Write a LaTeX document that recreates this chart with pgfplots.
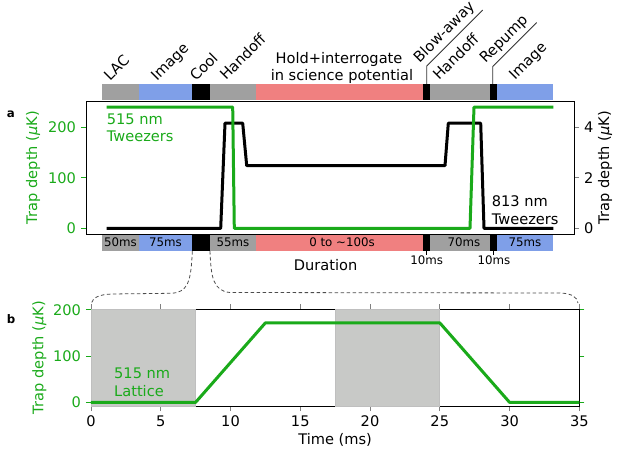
\documentclass[border=0pt]{standalone}
\usepackage{fontspec}
\setmainfont{DejaVu Sans}
\usepackage{pgfplots}
\pgfplotsset{compat=1.18}

\definecolor{tgreen}{RGB}{26,170,26}
\definecolor{bgray}{RGB}{160,160,160}
\definecolor{bblue}{RGB}{127,159,232}
\definecolor{bred}{RGB}{240,128,128}
\definecolor{shade}{RGB}{200,201,199}
\newcommand\fs{\fontsize{14.6}{17.4}\selectfont}
\newcommand\fsm{\fontsize{11.8}{14}\selectfont}
% text turned by 45 degrees, baseline starting at (#1,#2)
\newcommand\rlab[3]{%
  \node[rotate=45, anchor=base west, inner sep=0pt] at (#1,#2) {#3};}

\pgfplotsset{
  common/.style={
    scale only axis, enlargelimits=false, clip=false,
    tick align=outside, major tick length=5pt,
    /pgf/number format/assume math mode=true,
    axis line style={line width=0.9pt},
    every tick/.append style={line width=0.9pt},
  },
}

\begin{document}
\fs
\begin{tikzpicture}
\useasboundingbox (0pt,0pt) rectangle (638pt,467pt);

% panel a, right axis: 813 nm tweezers
\begin{axis}[common,
  at={(86pt,233pt)}, anchor=south west, width=488pt, height=133pt,
  xmin=0, xmax=488, ymin=-0.226, ymax=5.04,
  axis x line=none, axis y line*=right,
  ytick={0,2,4},
  ylabel={Trap depth (\textit{μ}K)},
  every axis y label/.style={at={(axis description cs:1.0635,0.5)}, rotate=90, anchor=center},
]
\addplot[black, line width=3pt, line join=round] coordinates {
  (20.7,0) (134.7,0) (139,4.16) (156.7,4.16) (160.7,2.48) (359,2.48)
  (362.3,4.16) (394.7,4.16) (398,0) (467.3,0)};
\end{axis}

% panel a, left axis: 515 nm tweezers + timeline bars
\begin{axis}[common,
  at={(86pt,233pt)}, anchor=south west, width=488pt, height=133pt,
  xmin=0, xmax=488, ymin=-11.3, ymax=252,
  xtick=\empty, ytick={0,100,200}, ytick pos=left,
  yticklabel style={text=tgreen}, ytick style={draw=tgreen},
  ylabel={Trap depth (\textit{μ}K)},
  every axis y label/.style={at={(axis description cs:-0.1086,0.5)}, rotate=90, anchor=center, text=tgreen},
]
% top bar
\fill[bgray]  (axis cs:16,254)    rectangle (axis cs:52.7,285.7);
\fill[bblue]  (axis cs:52.7,254)  rectangle (axis cs:106,285.7);
\fill[black]  (axis cs:106,254)   rectangle (axis cs:124,285.7);
\fill[bgray]  (axis cs:124,254)   rectangle (axis cs:169.7,285.7);
\fill[bred]   (axis cs:169.7,254) rectangle (axis cs:337,285.7);
\fill[black]  (axis cs:337,254)   rectangle (axis cs:344,285.7);
\fill[bgray]  (axis cs:344,254)   rectangle (axis cs:404,285.7);
\fill[black]  (axis cs:404,254)   rectangle (axis cs:411,285.7);
\fill[bblue]  (axis cs:411,254)   rectangle (axis cs:467,285.7);
% bottom bar
\fill[bgray]  (axis cs:16,-45)    rectangle (axis cs:52.7,-13.3);
\fill[bblue]  (axis cs:52.7,-45)  rectangle (axis cs:106,-13.3);
\fill[black]  (axis cs:106,-45)   rectangle (axis cs:124,-13.3);
\fill[bgray]  (axis cs:124,-45)   rectangle (axis cs:169.7,-13.3);
\fill[bred]   (axis cs:169.7,-45) rectangle (axis cs:337,-13.3);
\fill[black]  (axis cs:337,-45)   rectangle (axis cs:344,-13.3);
\fill[bgray]  (axis cs:344,-45)   rectangle (axis cs:404,-13.3);
\fill[black]  (axis cs:404,-45)   rectangle (axis cs:411,-13.3);
\fill[bblue]  (axis cs:411,-45)   rectangle (axis cs:467,-13.3);
\addplot[tgreen, line width=3pt, line join=round] coordinates {
  (20.7,240) (146.7,240) (148.3,0) (384,0) (388,240) (467.3,240)};
\end{axis}

% panel b: lattice ramp
\begin{axis}[common,
  at={(91pt,61pt)}, anchor=south west, width=488.3pt, height=97pt,
  xmin=0, xmax=35, ymin=-8, ymax=202,
  xtick={0,5,...,35}, ytick={0,100,200},
  yticklabel style={text=tgreen}, ytick style={draw=tgreen},
  xlabel={Time (ms)},
  every axis x label/.style={at={(axis description cs:0.5,-0.35)}, anchor=center},
  ylabel={Trap depth (\textit{μ}K)},
  every axis y label/.style={at={(axis description cs:-0.1059,0.5)}, rotate=90, anchor=center, text=tgreen},
]
\addplot[fill=shade, draw=black!25, line width=0.8pt] coordinates {(0,-8) (7.5,-8) (7.5,202) (0,202)} -- cycle;
\addplot[fill=shade, draw=black!25, line width=0.8pt] coordinates {(17.5,-8) (25,-8) (25,202) (17.5,202)} -- cycle;
\addplot[tgreen, line width=3pt, line join=round] coordinates {
  (0,0) (7.5,0) (12.5,172) (25,172) (30,0) (35,0)};
\end{axis}

\begin{scope}[x=1pt, y=1pt]
% phase names above the bar
\rlab{110}{385}{LAC}
\rlab{157}{385}{Image}
\rlab{196}{385}{Cool}
\rlab{226}{386}{Handoff}
\rlab{439}{386}{Handoff}
\rlab{515}{386}{Image}
\node[anchor=base, inner sep=0pt] at (339,403.7) {Hold+interrogate};
\node[anchor=base, inner sep=0pt] at (342,386.3) {in science potential};
\draw[line width=0.8pt, black!80] (426.7,383) -- (426.7,401) -- ++(56,56);
\rlab{419.5}{403.7}{Blow-away}
\draw[line width=0.8pt, black!80] (492.7,383) -- (492.7,400.5) -- ++(44,44);
\rlab{485.5}{403}{Repump}

% durations in the bar below
\begin{scope}[every node/.style={anchor=base, inner sep=0pt, font=\fsm}]
\node at (120.5,220.3) {50ms};
\node at (165.5,220.3) {75ms};
\node at (233,220.3) {55ms};
\node at (342,220.3) {0 to \textasciitilde100s};
\node at (464,220.3) {70ms};
\node at (525,220.3) {75ms};
\node at (426.7,202.7) {10ms};
\node at (494,202.7) {10ms};
\end{scope}
\draw[line width=0.8pt] (426.7,216) -- (426.7,212);
\draw[line width=0.8pt] (493.5,216) -- (493.5,212);
\node[anchor=base, inner sep=0pt] at (325.7,196.3) {Duration};

% curve names
\node[anchor=base west, inner sep=0pt, text=tgreen] at (106.7,342.7) {515 nm};
\node[anchor=base west, inner sep=0pt, text=tgreen] at (106.7,325.3) {Tweezers};
\node[anchor=base west, inner sep=0pt] at (491.7,260.3) {813 nm};
\node[anchor=base west, inner sep=0pt] at (491.7,242.7) {Tweezers};
\node[anchor=base west, inner sep=0pt, text=tgreen] at (114,88.7) {515 nm};
\node[anchor=base west, inner sep=0pt, text=tgreen] at (114,70.3) {Lattice};

% panel letters
\node[anchor=base west, inner sep=0pt, font=\fsm\bfseries] at (6.7,349.3) {a};
\node[anchor=base west, inner sep=0pt, font=\fsm\bfseries] at (6.7,144) {b};

% zoom connectors from the cooling step to panel b
\draw[dash pattern=on 3.5pt off 2.5pt, line width=0.8pt, black!70]
  (192.3,216) .. controls (191,185) and (188,174) .. (170,173.7)
  -- (112,173) .. controls (98,172.5) and (93,169) .. (91.5,164);
\draw[dash pattern=on 3.5pt off 2.5pt, line width=0.8pt, black!70]
  (210,216) .. controls (211,190) and (213,176) .. (230,174.5)
  -- (560,174) .. controls (572,173.5) and (577,170) .. (578,164);
\end{scope}
\end{tikzpicture}
\end{document}
